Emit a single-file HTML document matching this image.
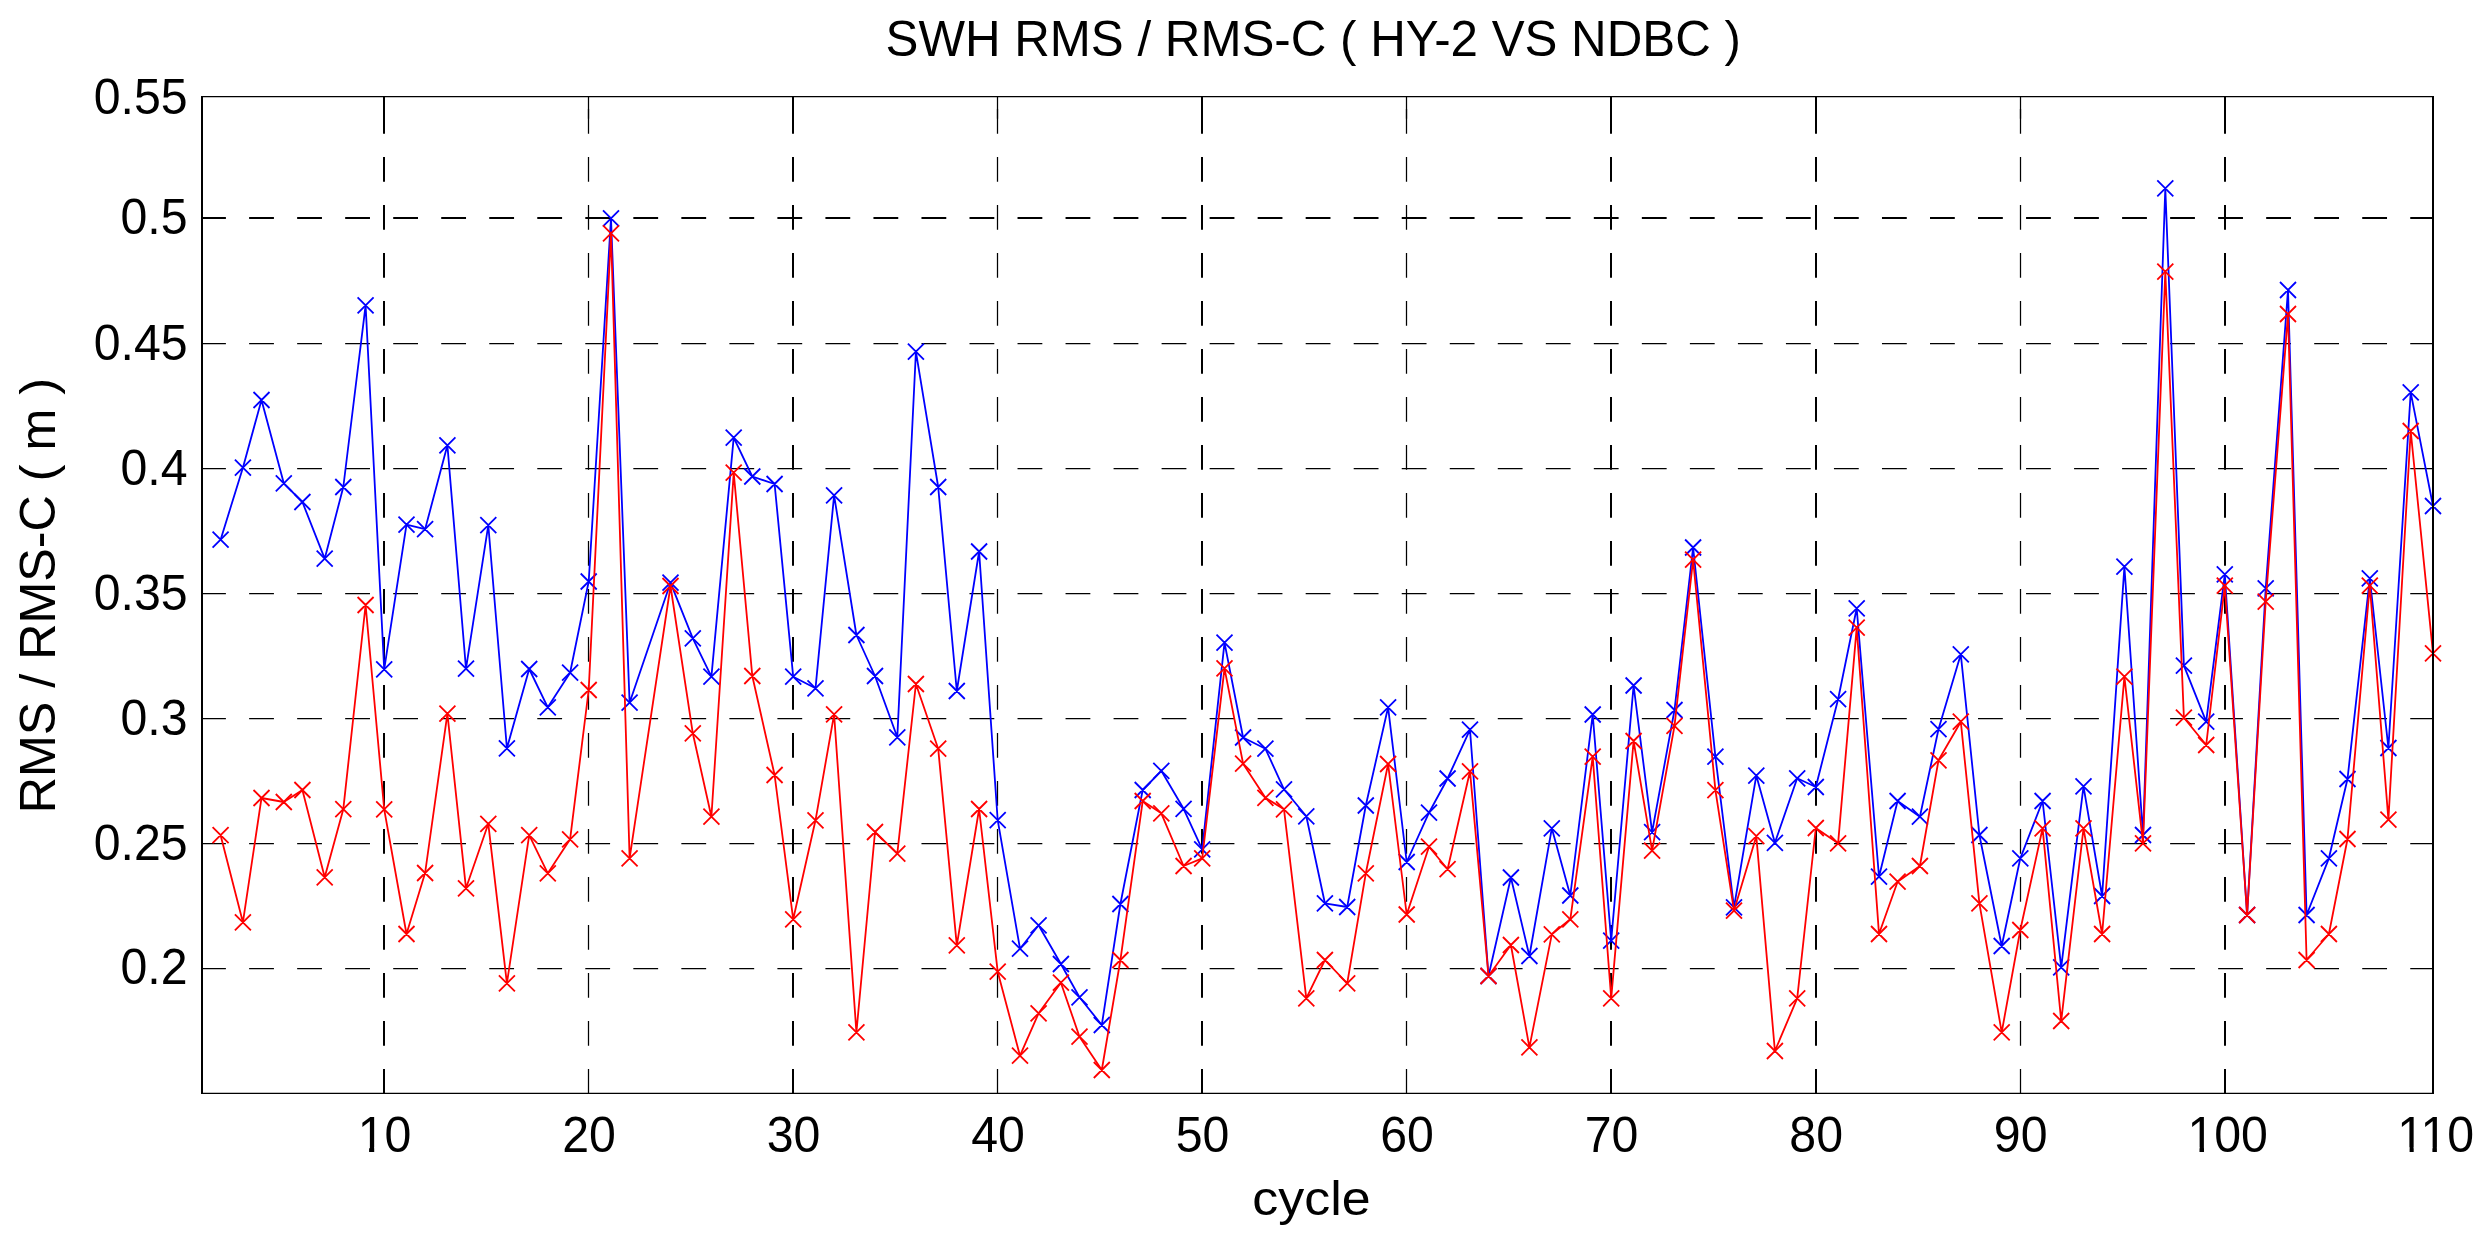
<!DOCTYPE html>
<html><head><meta charset="utf-8"><title>SWH RMS / RMS-C ( HY-2 VS NDBC )</title>
<style>
html,body{margin:0;padding:0;background:#fff;}
body{width:2488px;height:1238px;overflow:hidden;}
svg{display:block;}
text{font-family:"Liberation Sans",sans-serif;fill:#000;}
</style></head><body>
<svg width="2488" height="1238" viewBox="0 0 2488 1238">
<rect width="2488" height="1238" fill="#fff"/>

<g stroke="#000" fill="none">
<path d="M384.0 1093.8V96.7" stroke-width="2" stroke-dasharray="24.8 23.2"/>
<path d="M384.0 96.7v22" stroke-width="2"/>
<path d="M588.5 1093.8V96.7" stroke-width="1.25" stroke-dasharray="24.8 23.2"/>
<path d="M588.5 96.7v22" stroke-width="1.25"/>
<path d="M793.0 1093.8V96.7" stroke-width="2" stroke-dasharray="24.8 23.2"/>
<path d="M793.0 96.7v22" stroke-width="2"/>
<path d="M997.5 1093.8V96.7" stroke-width="1.25" stroke-dasharray="24.8 23.2"/>
<path d="M997.5 96.7v22" stroke-width="1.25"/>
<path d="M1202.0 1093.8V96.7" stroke-width="2" stroke-dasharray="24.8 23.2"/>
<path d="M1202.0 96.7v22" stroke-width="2"/>
<path d="M1406.5 1093.8V96.7" stroke-width="1.25" stroke-dasharray="24.8 23.2"/>
<path d="M1406.5 96.7v22" stroke-width="1.25"/>
<path d="M1611.0 1093.8V96.7" stroke-width="2" stroke-dasharray="24.8 23.2"/>
<path d="M1611.0 96.7v22" stroke-width="2"/>
<path d="M1816.0 1093.8V96.7" stroke-width="2" stroke-dasharray="24.8 23.2"/>
<path d="M1816.0 96.7v22" stroke-width="2"/>
<path d="M2020.5 1093.8V96.7" stroke-width="1.25" stroke-dasharray="24.8 23.2"/>
<path d="M2020.5 96.7v22" stroke-width="1.25"/>
<path d="M2225.0 1093.8V96.7" stroke-width="2" stroke-dasharray="24.8 23.2"/>
<path d="M2225.0 96.7v22" stroke-width="2"/>
<path d="M201.1 218.0H2433.0" stroke-width="2" stroke-dasharray="24.8 23.225"/>
<path d="M201.1 343.5H2433.0" stroke-width="1.25" stroke-dasharray="24.8 23.225"/>
<path d="M201.1 468.5H2433.0" stroke-width="1.25" stroke-dasharray="24.8 23.225"/>
<path d="M201.1 593.5H2433.0" stroke-width="1.25" stroke-dasharray="24.8 23.225"/>
<path d="M201.1 718.5H2433.0" stroke-width="1.25" stroke-dasharray="24.8 23.225"/>
<path d="M201.1 843.5H2433.0" stroke-width="1.25" stroke-dasharray="24.8 23.225"/>
<path d="M201.1 968.5H2433.0" stroke-width="1.25" stroke-dasharray="24.8 23.225"/>
</g>
<polyline points="220.6,539.7 242.9,467.7 261.5,400.0 283.8,483.3 302.4,502.0 324.7,558.7 343.3,487.0 365.6,305.3 384.2,669.3 406.5,524.7 425.1,529.2 447.4,445.3 466.0,668.7 488.3,525.2 506.9,748.3 529.2,669.0 547.8,707.3 570.1,672.7 588.7,581.5 611.0,218.3 629.6,702.7 670.5,582.7 692.8,638.3 711.4,676.7 733.7,437.7 752.3,476.5 774.6,484.0 793.2,676.7 815.5,688.3 834.1,495.3 856.4,635.0 875.0,676.0 897.3,737.3 915.9,351.7 938.2,487.0 956.8,691.0 979.1,551.5 997.7,820.2 1020.0,948.7 1038.6,925.3 1060.9,964.0 1079.5,997.3 1101.8,1025.0 1120.4,904.0 1142.7,790.0 1161.3,770.8 1183.6,808.8 1202.2,849.3 1224.5,642.7 1243.1,737.5 1265.4,748.7 1284.0,789.3 1306.3,816.3 1324.9,903.3 1347.2,907.0 1365.8,805.5 1388.1,707.3 1406.7,862.0 1429.0,812.7 1447.6,778.5 1470.0,729.7 1488.5,976.0 1510.9,877.5 1529.4,956.0 1551.8,828.3 1570.3,895.5 1592.7,714.5 1611.2,940.7 1633.6,685.5 1652.1,832.2 1674.5,710.0 1693.1,547.5 1715.4,756.7 1734.0,907.4 1756.3,775.6 1774.9,842.8 1797.2,778.3 1815.8,787.0 1838.1,699.2 1856.7,608.3 1879.0,876.7 1897.6,801.0 1919.9,816.7 1938.5,729.2 1960.8,654.3 1979.4,835.0 2001.7,946.0 2020.3,858.3 2042.6,801.0 2061.2,967.3 2083.5,786.3 2102.1,896.0 2124.4,566.7 2143.0,835.0 2165.3,188.3 2183.9,665.7 2206.2,721.7 2224.8,574.3 2247.1,915.0 2265.7,588.3 2288.0,290.0 2306.6,915.0 2328.9,858.3 2347.5,779.0 2369.8,578.3 2388.4,748.0 2410.7,392.3 2433.0,506.0" fill="none" stroke="#0000ff" stroke-width="1.8" stroke-linejoin="round"/><path d="M212.6 531.7l16 16M212.6 547.7l16 -16M234.9 459.7l16 16M234.9 475.7l16 -16M253.5 392.0l16 16M253.5 408.0l16 -16M275.8 475.3l16 16M275.8 491.3l16 -16M294.4 494.0l16 16M294.4 510.0l16 -16M316.7 550.7l16 16M316.7 566.7l16 -16M335.3 479.0l16 16M335.3 495.0l16 -16M357.6 297.3l16 16M357.6 313.3l16 -16M376.2 661.3l16 16M376.2 677.3l16 -16M398.5 516.7l16 16M398.5 532.7l16 -16M417.1 521.2l16 16M417.1 537.2l16 -16M439.4 437.3l16 16M439.4 453.3l16 -16M458.0 660.7l16 16M458.0 676.7l16 -16M480.3 517.2l16 16M480.3 533.2l16 -16M498.9 740.3l16 16M498.9 756.3l16 -16M521.2 661.0l16 16M521.2 677.0l16 -16M539.8 699.3l16 16M539.8 715.3l16 -16M562.1 664.7l16 16M562.1 680.7l16 -16M580.7 573.5l16 16M580.7 589.5l16 -16M603.0 210.3l16 16M603.0 226.3l16 -16M621.6 694.7l16 16M621.6 710.7l16 -16M662.5 574.7l16 16M662.5 590.7l16 -16M684.8 630.3l16 16M684.8 646.3l16 -16M703.4 668.7l16 16M703.4 684.7l16 -16M725.7 429.7l16 16M725.7 445.7l16 -16M744.3 468.5l16 16M744.3 484.5l16 -16M766.6 476.0l16 16M766.6 492.0l16 -16M785.2 668.7l16 16M785.2 684.7l16 -16M807.5 680.3l16 16M807.5 696.3l16 -16M826.1 487.3l16 16M826.1 503.3l16 -16M848.4 627.0l16 16M848.4 643.0l16 -16M867.0 668.0l16 16M867.0 684.0l16 -16M889.3 729.3l16 16M889.3 745.3l16 -16M907.9 343.7l16 16M907.9 359.7l16 -16M930.2 479.0l16 16M930.2 495.0l16 -16M948.8 683.0l16 16M948.8 699.0l16 -16M971.1 543.5l16 16M971.1 559.5l16 -16M989.7 812.2l16 16M989.7 828.2l16 -16M1012.0 940.7l16 16M1012.0 956.7l16 -16M1030.6 917.3l16 16M1030.6 933.3l16 -16M1052.9 956.0l16 16M1052.9 972.0l16 -16M1071.5 989.3l16 16M1071.5 1005.3l16 -16M1093.8 1017.0l16 16M1093.8 1033.0l16 -16M1112.4 896.0l16 16M1112.4 912.0l16 -16M1134.7 782.0l16 16M1134.7 798.0l16 -16M1153.3 762.8l16 16M1153.3 778.8l16 -16M1175.6 800.8l16 16M1175.6 816.8l16 -16M1194.2 841.3l16 16M1194.2 857.3l16 -16M1216.5 634.7l16 16M1216.5 650.7l16 -16M1235.1 729.5l16 16M1235.1 745.5l16 -16M1257.4 740.7l16 16M1257.4 756.7l16 -16M1276.0 781.3l16 16M1276.0 797.3l16 -16M1298.3 808.3l16 16M1298.3 824.3l16 -16M1316.9 895.3l16 16M1316.9 911.3l16 -16M1339.2 899.0l16 16M1339.2 915.0l16 -16M1357.8 797.5l16 16M1357.8 813.5l16 -16M1380.1 699.3l16 16M1380.1 715.3l16 -16M1398.7 854.0l16 16M1398.7 870.0l16 -16M1421.0 804.7l16 16M1421.0 820.7l16 -16M1439.6 770.5l16 16M1439.6 786.5l16 -16M1462.0 721.7l16 16M1462.0 737.7l16 -16M1480.5 968.0l16 16M1480.5 984.0l16 -16M1502.9 869.5l16 16M1502.9 885.5l16 -16M1521.4 948.0l16 16M1521.4 964.0l16 -16M1543.8 820.3l16 16M1543.8 836.3l16 -16M1562.3 887.5l16 16M1562.3 903.5l16 -16M1584.7 706.5l16 16M1584.7 722.5l16 -16M1603.2 932.7l16 16M1603.2 948.7l16 -16M1625.6 677.5l16 16M1625.6 693.5l16 -16M1644.1 824.2l16 16M1644.1 840.2l16 -16M1666.5 702.0l16 16M1666.5 718.0l16 -16M1685.1 539.5l16 16M1685.1 555.5l16 -16M1707.4 748.7l16 16M1707.4 764.7l16 -16M1726.0 899.4l16 16M1726.0 915.4l16 -16M1748.3 767.6l16 16M1748.3 783.6l16 -16M1766.9 834.8l16 16M1766.9 850.8l16 -16M1789.2 770.3l16 16M1789.2 786.3l16 -16M1807.8 779.0l16 16M1807.8 795.0l16 -16M1830.1 691.2l16 16M1830.1 707.2l16 -16M1848.7 600.3l16 16M1848.7 616.3l16 -16M1871.0 868.7l16 16M1871.0 884.7l16 -16M1889.6 793.0l16 16M1889.6 809.0l16 -16M1911.9 808.7l16 16M1911.9 824.7l16 -16M1930.5 721.2l16 16M1930.5 737.2l16 -16M1952.8 646.3l16 16M1952.8 662.3l16 -16M1971.4 827.0l16 16M1971.4 843.0l16 -16M1993.7 938.0l16 16M1993.7 954.0l16 -16M2012.3 850.3l16 16M2012.3 866.3l16 -16M2034.6 793.0l16 16M2034.6 809.0l16 -16M2053.2 959.3l16 16M2053.2 975.3l16 -16M2075.5 778.3l16 16M2075.5 794.3l16 -16M2094.1 888.0l16 16M2094.1 904.0l16 -16M2116.4 558.7l16 16M2116.4 574.7l16 -16M2135.0 827.0l16 16M2135.0 843.0l16 -16M2157.3 180.3l16 16M2157.3 196.3l16 -16M2175.9 657.7l16 16M2175.9 673.7l16 -16M2198.2 713.7l16 16M2198.2 729.7l16 -16M2216.8 566.3l16 16M2216.8 582.3l16 -16M2239.1 907.0l16 16M2239.1 923.0l16 -16M2257.7 580.3l16 16M2257.7 596.3l16 -16M2280.0 282.0l16 16M2280.0 298.0l16 -16M2298.6 907.0l16 16M2298.6 923.0l16 -16M2320.9 850.3l16 16M2320.9 866.3l16 -16M2339.5 771.0l16 16M2339.5 787.0l16 -16M2361.8 570.3l16 16M2361.8 586.3l16 -16M2380.4 740.0l16 16M2380.4 756.0l16 -16M2402.7 384.3l16 16M2402.7 400.3l16 -16M2425.0 498.0l16 16M2425.0 514.0l16 -16" fill="none" stroke="#0000ff" stroke-width="1.8"/>
<polyline points="220.6,835.2 242.9,922.3 261.5,798.0 283.8,802.0 302.4,790.0 324.7,877.3 343.3,809.2 365.6,605.0 384.2,809.3 406.5,934.0 425.1,873.0 447.4,713.7 466.0,888.3 488.3,823.8 506.9,983.3 529.2,835.2 547.8,873.3 570.1,839.3 588.7,690.0 611.0,233.3 629.6,858.3 670.5,586.0 692.8,733.3 711.4,816.7 733.7,472.7 752.3,676.0 774.6,775.0 793.2,919.3 815.5,820.3 834.1,714.3 856.4,1032.3 875.0,832.0 897.3,853.7 915.9,684.0 938.2,748.7 956.8,945.3 979.1,809.0 997.7,971.7 1020.0,1055.7 1038.6,1013.3 1060.9,982.7 1079.5,1036.7 1101.8,1070.0 1120.4,960.0 1142.7,801.0 1161.3,813.3 1183.6,866.0 1202.2,858.3 1224.5,668.3 1243.1,763.7 1265.4,797.8 1284.0,809.3 1306.3,998.3 1324.9,960.0 1347.2,983.3 1365.8,873.3 1388.1,764.0 1406.7,914.5 1429.0,846.7 1447.6,869.2 1470.0,771.3 1488.5,976.0 1510.9,945.0 1529.4,1047.3 1551.8,934.3 1570.3,919.3 1592.7,756.7 1611.2,998.3 1633.6,741.0 1652.1,850.7 1674.5,725.8 1693.1,559.7 1715.4,790.2 1734.0,910.7 1756.3,836.2 1774.9,1051.0 1797.2,998.3 1815.8,828.0 1838.1,843.3 1856.7,627.7 1879.0,934.0 1897.6,881.7 1919.9,866.0 1938.5,760.3 1960.8,721.7 1979.4,903.3 2001.7,1032.3 2020.3,930.0 2042.6,828.3 2061.2,1021.0 2083.5,828.3 2102.1,934.0 2124.4,676.7 2143.0,843.3 2165.3,271.7 2183.9,717.7 2206.2,745.0 2224.8,585.7 2247.1,915.0 2265.7,601.7 2288.0,314.0 2306.6,960.0 2328.9,934.0 2347.5,839.0 2369.8,585.7 2388.4,819.7 2410.7,431.0 2433.0,653.3" fill="none" stroke="#ff0000" stroke-width="1.8" stroke-linejoin="round"/><path d="M212.6 827.2l16 16M212.6 843.2l16 -16M234.9 914.3l16 16M234.9 930.3l16 -16M253.5 790.0l16 16M253.5 806.0l16 -16M275.8 794.0l16 16M275.8 810.0l16 -16M294.4 782.0l16 16M294.4 798.0l16 -16M316.7 869.3l16 16M316.7 885.3l16 -16M335.3 801.2l16 16M335.3 817.2l16 -16M357.6 597.0l16 16M357.6 613.0l16 -16M376.2 801.3l16 16M376.2 817.3l16 -16M398.5 926.0l16 16M398.5 942.0l16 -16M417.1 865.0l16 16M417.1 881.0l16 -16M439.4 705.7l16 16M439.4 721.7l16 -16M458.0 880.3l16 16M458.0 896.3l16 -16M480.3 815.8l16 16M480.3 831.8l16 -16M498.9 975.3l16 16M498.9 991.3l16 -16M521.2 827.2l16 16M521.2 843.2l16 -16M539.8 865.3l16 16M539.8 881.3l16 -16M562.1 831.3l16 16M562.1 847.3l16 -16M580.7 682.0l16 16M580.7 698.0l16 -16M603.0 225.3l16 16M603.0 241.3l16 -16M621.6 850.3l16 16M621.6 866.3l16 -16M662.5 578.0l16 16M662.5 594.0l16 -16M684.8 725.3l16 16M684.8 741.3l16 -16M703.4 808.7l16 16M703.4 824.7l16 -16M725.7 464.7l16 16M725.7 480.7l16 -16M744.3 668.0l16 16M744.3 684.0l16 -16M766.6 767.0l16 16M766.6 783.0l16 -16M785.2 911.3l16 16M785.2 927.3l16 -16M807.5 812.3l16 16M807.5 828.3l16 -16M826.1 706.3l16 16M826.1 722.3l16 -16M848.4 1024.3l16 16M848.4 1040.3l16 -16M867.0 824.0l16 16M867.0 840.0l16 -16M889.3 845.7l16 16M889.3 861.7l16 -16M907.9 676.0l16 16M907.9 692.0l16 -16M930.2 740.7l16 16M930.2 756.7l16 -16M948.8 937.3l16 16M948.8 953.3l16 -16M971.1 801.0l16 16M971.1 817.0l16 -16M989.7 963.7l16 16M989.7 979.7l16 -16M1012.0 1047.7l16 16M1012.0 1063.7l16 -16M1030.6 1005.3l16 16M1030.6 1021.3l16 -16M1052.9 974.7l16 16M1052.9 990.7l16 -16M1071.5 1028.7l16 16M1071.5 1044.7l16 -16M1093.8 1062.0l16 16M1093.8 1078.0l16 -16M1112.4 952.0l16 16M1112.4 968.0l16 -16M1134.7 793.0l16 16M1134.7 809.0l16 -16M1153.3 805.3l16 16M1153.3 821.3l16 -16M1175.6 858.0l16 16M1175.6 874.0l16 -16M1194.2 850.3l16 16M1194.2 866.3l16 -16M1216.5 660.3l16 16M1216.5 676.3l16 -16M1235.1 755.7l16 16M1235.1 771.7l16 -16M1257.4 789.8l16 16M1257.4 805.8l16 -16M1276.0 801.3l16 16M1276.0 817.3l16 -16M1298.3 990.3l16 16M1298.3 1006.3l16 -16M1316.9 952.0l16 16M1316.9 968.0l16 -16M1339.2 975.3l16 16M1339.2 991.3l16 -16M1357.8 865.3l16 16M1357.8 881.3l16 -16M1380.1 756.0l16 16M1380.1 772.0l16 -16M1398.7 906.5l16 16M1398.7 922.5l16 -16M1421.0 838.7l16 16M1421.0 854.7l16 -16M1439.6 861.2l16 16M1439.6 877.2l16 -16M1462.0 763.3l16 16M1462.0 779.3l16 -16M1480.5 968.0l16 16M1480.5 984.0l16 -16M1502.9 937.0l16 16M1502.9 953.0l16 -16M1521.4 1039.3l16 16M1521.4 1055.3l16 -16M1543.8 926.3l16 16M1543.8 942.3l16 -16M1562.3 911.3l16 16M1562.3 927.3l16 -16M1584.7 748.7l16 16M1584.7 764.7l16 -16M1603.2 990.3l16 16M1603.2 1006.3l16 -16M1625.6 733.0l16 16M1625.6 749.0l16 -16M1644.1 842.7l16 16M1644.1 858.7l16 -16M1666.5 717.8l16 16M1666.5 733.8l16 -16M1685.1 551.7l16 16M1685.1 567.7l16 -16M1707.4 782.2l16 16M1707.4 798.2l16 -16M1726.0 902.7l16 16M1726.0 918.7l16 -16M1748.3 828.2l16 16M1748.3 844.2l16 -16M1766.9 1043.0l16 16M1766.9 1059.0l16 -16M1789.2 990.3l16 16M1789.2 1006.3l16 -16M1807.8 820.0l16 16M1807.8 836.0l16 -16M1830.1 835.3l16 16M1830.1 851.3l16 -16M1848.7 619.7l16 16M1848.7 635.7l16 -16M1871.0 926.0l16 16M1871.0 942.0l16 -16M1889.6 873.7l16 16M1889.6 889.7l16 -16M1911.9 858.0l16 16M1911.9 874.0l16 -16M1930.5 752.3l16 16M1930.5 768.3l16 -16M1952.8 713.7l16 16M1952.8 729.7l16 -16M1971.4 895.3l16 16M1971.4 911.3l16 -16M1993.7 1024.3l16 16M1993.7 1040.3l16 -16M2012.3 922.0l16 16M2012.3 938.0l16 -16M2034.6 820.3l16 16M2034.6 836.3l16 -16M2053.2 1013.0l16 16M2053.2 1029.0l16 -16M2075.5 820.3l16 16M2075.5 836.3l16 -16M2094.1 926.0l16 16M2094.1 942.0l16 -16M2116.4 668.7l16 16M2116.4 684.7l16 -16M2135.0 835.3l16 16M2135.0 851.3l16 -16M2157.3 263.7l16 16M2157.3 279.7l16 -16M2175.9 709.7l16 16M2175.9 725.7l16 -16M2198.2 737.0l16 16M2198.2 753.0l16 -16M2216.8 577.7l16 16M2216.8 593.7l16 -16M2239.1 907.0l16 16M2239.1 923.0l16 -16M2257.7 593.7l16 16M2257.7 609.7l16 -16M2280.0 306.0l16 16M2280.0 322.0l16 -16M2298.6 952.0l16 16M2298.6 968.0l16 -16M2320.9 926.0l16 16M2320.9 942.0l16 -16M2339.5 831.0l16 16M2339.5 847.0l16 -16M2361.8 577.7l16 16M2361.8 593.7l16 -16M2380.4 811.7l16 16M2380.4 827.7l16 -16M2402.7 423.0l16 16M2402.7 439.0l16 -16M2425.0 645.3l16 16M2425.0 661.3l16 -16" fill="none" stroke="#ff0000" stroke-width="1.8"/>
<g stroke="#000" fill="none"><path d="M202.0 96.7H2433.0" stroke-width="1.3"/><path d="M202.0 1093.3H2434.0" stroke-width="1.3"/><path d="M202.0 96.10000000000001V1093.8999999999999" stroke-width="2"/><path d="M2433.0 96.10000000000001V1093.8999999999999" stroke-width="2"/></g>
<text transform="translate(187.6 234.2) scale(0.985 1.03)" font-size="49" text-anchor="end">0.5</text>
<text transform="translate(187.6 359.5) scale(0.985 1.03)" font-size="49" text-anchor="end">0.45</text>
<text transform="translate(187.6 484.5) scale(0.985 1.03)" font-size="49" text-anchor="end">0.4</text>
<text transform="translate(187.6 609.7) scale(0.985 1.03)" font-size="49" text-anchor="end">0.35</text>
<text transform="translate(187.6 734.5) scale(0.985 1.03)" font-size="49" text-anchor="end">0.3</text>
<text transform="translate(187.6 859.5) scale(0.985 1.03)" font-size="49" text-anchor="end">0.25</text>
<text transform="translate(187.6 984.2) scale(0.985 1.03)" font-size="49" text-anchor="end">0.2</text>
<text transform="translate(187.6 114.1) scale(0.985 1.03)" font-size="49" text-anchor="end">0.55</text>
<text transform="translate(384.6 1152.0) scale(0.985 1.03)" font-size="49" text-anchor="middle">10</text>
<text transform="translate(589.1 1152.0) scale(0.985 1.03)" font-size="49" text-anchor="middle">20</text>
<text transform="translate(793.6 1152.0) scale(0.985 1.03)" font-size="49" text-anchor="middle">30</text>
<text transform="translate(998.1 1152.0) scale(0.985 1.03)" font-size="49" text-anchor="middle">40</text>
<text transform="translate(1202.6 1152.0) scale(0.985 1.03)" font-size="49" text-anchor="middle">50</text>
<text transform="translate(1407.1 1152.0) scale(0.985 1.03)" font-size="49" text-anchor="middle">60</text>
<text transform="translate(1611.6 1152.0) scale(0.985 1.03)" font-size="49" text-anchor="middle">70</text>
<text transform="translate(1816.2 1152.0) scale(0.985 1.03)" font-size="49" text-anchor="middle">80</text>
<text transform="translate(2020.7 1152.0) scale(0.985 1.03)" font-size="49" text-anchor="middle">90</text>
<text transform="translate(2227.7 1152.0) scale(0.985 1.03)" font-size="49" text-anchor="middle">100</text>
<text transform="translate(2435.6 1152.0) scale(0.985 1.03)" font-size="49" text-anchor="middle">110</text>
<text transform="translate(1313.2 56.0) scale(1.0064 1.03)" font-size="49" text-anchor="middle">SWH RMS / RMS-C ( HY-2 VS NDBC )</text>
<text transform="translate(1311.5 1214.7) scale(1.04 0.96)" font-size="50" text-anchor="middle">cycle</text>
<text transform="translate(55.4 595.7) rotate(-90) scale(1.005 1.0)" font-size="50" text-anchor="middle">RMS / RMS-C ( m )</text>
<rect x="359.4" y="1147.4" width="9.7" height="5.4" fill="#fff"/><rect x="374.2" y="1147.4" width="9.2" height="5.4" fill="#fff"/>
<rect x="2189.6" y="1147.4" width="9.9" height="5.4" fill="#fff"/><rect x="2204.0" y="1147.4" width="9.2" height="5.4" fill="#fff"/>
<rect x="2399.7" y="1147.4" width="9.9" height="5.4" fill="#fff"/><rect x="2413.7" y="1147.4" width="9.2" height="5.4" fill="#fff"/>
<rect x="2423.0" y="1147.4" width="9.4" height="5.4" fill="#fff"/><rect x="2436.9" y="1147.4" width="9.3" height="5.4" fill="#fff"/>
</svg></body></html>
